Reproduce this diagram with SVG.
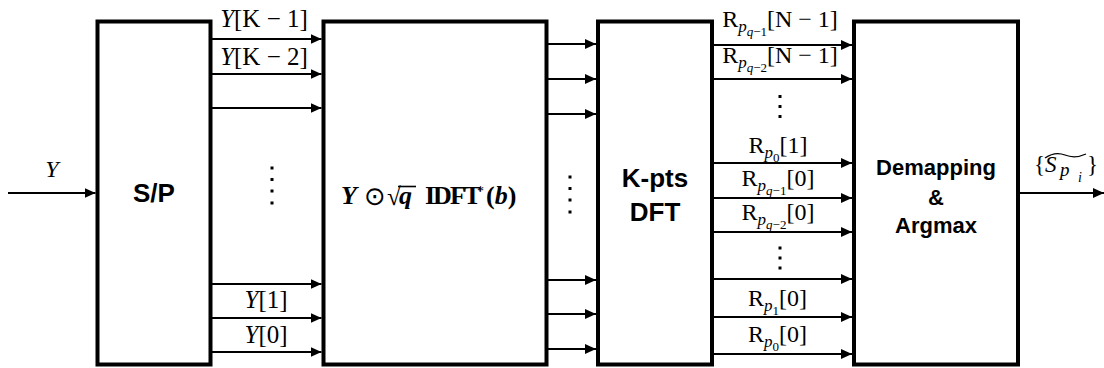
<svg xmlns="http://www.w3.org/2000/svg" width="1104" height="368" viewBox="0 0 1104 368">
<style>
.box{fill:#fff;stroke:#000;stroke-width:4}
.wire{stroke:#000;stroke-width:2;fill:none;marker-end:url(#ah)}
.lbl{font-family:"Liberation Serif","Times New Roman",serif;fill:#000}
.it{font-style:italic}
.bt{font-family:"Liberation Sans",Arial,sans-serif;font-weight:bold;fill:#000;text-anchor:middle}
.dot{fill:#000}
</style>
<defs>
<marker id="ah" markerUnits="userSpaceOnUse" markerWidth="12" markerHeight="12" refX="11" refY="6" orient="auto">
<path d="M0,1 L11,6 L0,11 z" fill="#000"/>
</marker>
</defs>
<rect width="1104" height="368" fill="#fff"/>

<g id="connectors">
<line class="wire" x1="8" y1="193" x2="95.5" y2="193"/>
<line class="wire" x1="212" y1="39" x2="321.5" y2="39"/>
<line class="wire" x1="212" y1="74" x2="321.5" y2="74"/>
<line class="wire" x1="212" y1="108" x2="321.5" y2="108"/>
<line class="wire" x1="212" y1="284" x2="321.5" y2="284"/>
<line class="wire" x1="212" y1="318" x2="321.5" y2="318"/>
<line class="wire" x1="212" y1="352" x2="321.5" y2="352"/>
<line class="wire" x1="548" y1="44" x2="596" y2="44"/>
<line class="wire" x1="548" y1="79" x2="596" y2="79"/>
<line class="wire" x1="548" y1="114" x2="596" y2="114"/>
<line class="wire" x1="548" y1="280" x2="596" y2="280"/>
<line class="wire" x1="548" y1="314" x2="596" y2="314"/>
<line class="wire" x1="548" y1="349" x2="596" y2="349"/>
<line class="wire" x1="714" y1="45" x2="852" y2="45"/>
<line class="wire" x1="714" y1="79" x2="852" y2="79"/>
<line class="wire" x1="714" y1="163" x2="852" y2="163"/>
<line class="wire" x1="714" y1="198" x2="852" y2="198"/>
<line class="wire" x1="714" y1="232" x2="852" y2="232"/>
<line class="wire" x1="714" y1="279" x2="852" y2="279"/>
<line class="wire" x1="714" y1="317" x2="852" y2="317"/>
<line class="wire" x1="714" y1="354" x2="852" y2="354"/>
<line class="wire" x1="1020" y1="193" x2="1104" y2="193"/>

<text class="lbl it" x="52" y="177" text-anchor="middle" style="font-size:24px">Y</text>
<text class="lbl" x="264" y="27" text-anchor="middle" style="font-size:25px"><tspan class="it">Y</tspan>[K − 1]</text>
<text class="lbl" x="264" y="64.5" text-anchor="middle" style="font-size:25px"><tspan class="it">Y</tspan>[K − 2]</text>
<text class="lbl" x="266" y="308" text-anchor="middle" style="font-size:25px"><tspan class="it">Y</tspan>[1]</text>
<text class="lbl" x="266" y="343" text-anchor="middle" style="font-size:25px"><tspan class="it">Y</tspan>[0]</text>

<g class="dot">
<rect x="270.5" y="166.5" width="3" height="3"/><rect x="270.5" y="178" width="3" height="3"/><rect x="270.5" y="189.5" width="3" height="3"/><rect x="270.5" y="201.5" width="3" height="3"/>
<rect x="568.5" y="175.5" width="3" height="3"/><rect x="568.5" y="187" width="3" height="3"/><rect x="568.5" y="198.5" width="3" height="3"/><rect x="568.5" y="210.5" width="3" height="3"/>
<rect x="778.5" y="95" width="3" height="3"/><rect x="778.5" y="105" width="3" height="3"/><rect x="778.5" y="115" width="3" height="3"/>
<rect x="778.5" y="246.5" width="3" height="3"/><rect x="778.5" y="256.5" width="3" height="3"/><rect x="778.5" y="266.5" width="3" height="3"/>
</g>

<text class="lbl" x="780" y="27" text-anchor="middle" style="font-size:24px">R<tspan class="it" font-size="17" dy="5">p</tspan><tspan class="it" font-size="13" dy="4">q</tspan><tspan font-size="13">−1</tspan><tspan dy="-9">[N − 1]</tspan></text>
<text class="lbl" x="780" y="63" text-anchor="middle" style="font-size:24px">R<tspan class="it" font-size="17" dy="5">p</tspan><tspan class="it" font-size="13" dy="4">q</tspan><tspan font-size="13">−2</tspan><tspan dy="-9">[N − 1]</tspan></text>
<text class="lbl" x="778" y="153" text-anchor="middle" style="font-size:24px">R<tspan class="it" font-size="17" dy="5">p</tspan><tspan font-size="13" dy="4">0</tspan><tspan dy="-9">[1]</tspan></text>
<text class="lbl" x="778" y="186" text-anchor="middle" style="font-size:24px">R<tspan class="it" font-size="17" dy="5">p</tspan><tspan class="it" font-size="13" dy="4">q</tspan><tspan font-size="13">−1</tspan><tspan dy="-9">[0]</tspan></text>
<text class="lbl" x="778" y="220" text-anchor="middle" style="font-size:24px">R<tspan class="it" font-size="17" dy="5">p</tspan><tspan class="it" font-size="13" dy="4">q</tspan><tspan font-size="13">−2</tspan><tspan dy="-9">[0]</tspan></text>
<text class="lbl" x="777.5" y="306" text-anchor="middle" style="font-size:24px">R<tspan class="it" font-size="17" dy="5">p</tspan><tspan font-size="13" dy="4">1</tspan><tspan dy="-9">[0]</tspan></text>
<text class="lbl" x="777.5" y="342" text-anchor="middle" style="font-size:24px">R<tspan class="it" font-size="17" dy="5">p</tspan><tspan font-size="13" dy="4">0</tspan><tspan dy="-9">[0]</tspan></text>

<g id="out-label">
<text class="lbl" x="1034" y="172" style="font-size:23px">{<tspan class="it" x="1045">S</tspan><tspan class="it" font-size="19" x="1060" dy="4">p</tspan><tspan class="it" font-size="14" x="1078" dy="6">i</tspan><tspan x="1087" dy="-10">}</tspan></text>
<path d="M1045,158 Q1055,151 1065,155 T1086,154" fill="none" stroke="#000" stroke-width="1.3"/>
</g>
</g>

<g id="sp">
<rect class="box" x="97.5" y="21.5" width="113" height="343"/>
<text class="bt" x="154" y="201.5" font-size="26">S/P</text>
</g>

<g id="mult">
<rect class="box" x="323.5" y="21.5" width="223" height="343"/>
<line x1="398" y1="186.5" x2="416" y2="186.5" stroke="#000" stroke-width="1.6"/>
<text class="lbl" y="204" style="font-size:26px"><tspan x="341" font-weight="bold" font-style="italic">Y</tspan><tspan x="364" y="205" font-family="'DejaVu Sans',sans-serif" font-size="26">⊙</tspan><tspan x="387" y="205" font-size="25">√</tspan><tspan x="399" y="204" font-weight="bold" font-style="italic">q</tspan><tspan x="425" font-weight="bold" letter-spacing="-2">IDFT</tspan><tspan x="477" y="196" font-size="14">*</tspan><tspan x="486" y="204" font-weight="bold">(</tspan><tspan font-weight="bold" font-style="italic">b</tspan><tspan font-weight="bold">)</tspan></text>
</g>

<g id="dft">
<rect class="box" x="598" y="21.5" width="114" height="343"/>
<text class="bt" x="655" y="187" font-size="26">K-pts</text>
<text class="bt" x="655" y="221" font-size="26">DFT</text>
</g>

<g id="demap">
<rect class="box" x="854" y="21.5" width="164" height="343"/>
<text class="bt" x="936" y="175" font-size="22">Demapping</text>
<text class="bt" x="936" y="205" font-size="22">&amp;</text>
<text class="bt" x="936" y="233" font-size="22">Argmax</text>
</g>
</svg>
